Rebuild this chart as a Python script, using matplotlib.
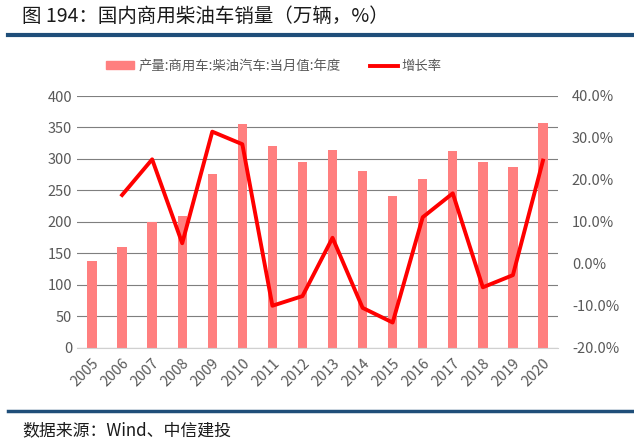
import matplotlib
matplotlib.use("Agg")
import matplotlib.pyplot as plt
from matplotlib.lines import Line2D
from matplotlib.patches import Patch
from matplotlib.ticker import FuncFormatter, MultipleLocator

plt.rcParams['font.family'] = ['Noto Sans CJK SC', 'DejaVu Sans']

years = ['2005', '2006', '2007', '2008', '2009', '2010', '2011', '2012',
         '2013', '2014', '2015', '2016', '2017', '2018', '2019', '2020']
sales = [138, 160, 200, 210, 276, 355, 320, 295, 314, 281, 241, 268, 313, 295, 287, 357]
growth = [None, 16.4, 24.9, 4.9, 31.5, 28.5, -10.0, -7.7, 6.2, -10.5, -14.0, 11.1, 16.8, -5.6, -2.7, 24.6]

bar_label = '产量:商用车:柴油汽车:当月值:年度'
line_label = '增长率'

W, H = 634, 448
fig = plt.figure(figsize=(W / 100, H / 100), dpi=100)

# Title and rules
fig.text(22 / W, 1 - 16 / H, '图 194：国内商用柴油车销量（万辆，%）', fontsize=14,
         fontweight='medium', va='center', ha='left', color='#1a1a1a')
fig.add_artist(Line2D([8 / W, 1.0], [1 - 35 / H, 1 - 35 / H], color='#1F4E79', lw=3,
                      transform=fig.transFigure))
fig.add_artist(Line2D([8 / W, 1.0], [1 - 411 / H, 1 - 411 / H], color='#1F4E79', lw=2.5,
                      transform=fig.transFigure))
fig.text(22 / W, 1 - 430 / H, '数据来源：Wind、中信建投', fontsize=12.2, style='italic',
         va='center', ha='left', color='#1a1a1a')

ax = fig.add_axes([77 / W, 1 - 347.7 / H, 481 / W, (347.7 - 96) / H])
x = list(range(len(years)))
ax.bar(x, sales, width=0.31, color='#FF7F7F', zorder=2)
ax.set_ylim(0, 400)
ax.set_xlim(-0.5, len(years) - 0.5)
ax.yaxis.set_major_locator(MultipleLocator(50))
ax.grid(axis='y', color='#7f7f7f', lw=0.8, zorder=0)
ax.set_axisbelow(True)
for s in ['top', 'right', 'left']:
    ax.spines[s].set_visible(False)
ax.spines['bottom'].set_color('#d0d0d0')
ax.tick_params(axis='both', length=0, colors='#595959', labelsize=10.5)
ax.set_xticks(x)
ax.set_xticklabels(years, rotation=45, ha='right', rotation_mode='anchor')
ax.tick_params(axis='x', pad=6)

ax2 = ax.twinx()
gx = [i for i, g in zip(x, growth) if g is not None]
gy = [g for g in growth if g is not None]
ax2.plot(gx, gy, color='#FF0000', lw=2.8, zorder=3)
ax2.set_ylim(-20, 40)
ax2.yaxis.set_major_locator(MultipleLocator(10))
ax2.yaxis.set_major_formatter(FuncFormatter(lambda v, p: f'{v:.1f}%'))
for s in ['top', 'right', 'left', 'bottom']:
    ax2.spines[s].set_visible(False)
ax2.tick_params(axis='y', length=0, colors='#595959', labelsize=10.5, pad=10)

handles = [Patch(color='#FF7F7F'), Line2D([0], [0], color='#FF0000', lw=2.8)]
fig.legend(handles, [bar_label, line_label], loc='center', ncol=2,
           bbox_to_anchor=(274 / W, 1 - 66 / H), frameon=False, fontsize=9.6,
           labelcolor='#595959', handlelength=2.1, handleheight=0.5,
           columnspacing=2.2, handletextpad=0.3)

fig.savefig('out.png', dpi=100)
